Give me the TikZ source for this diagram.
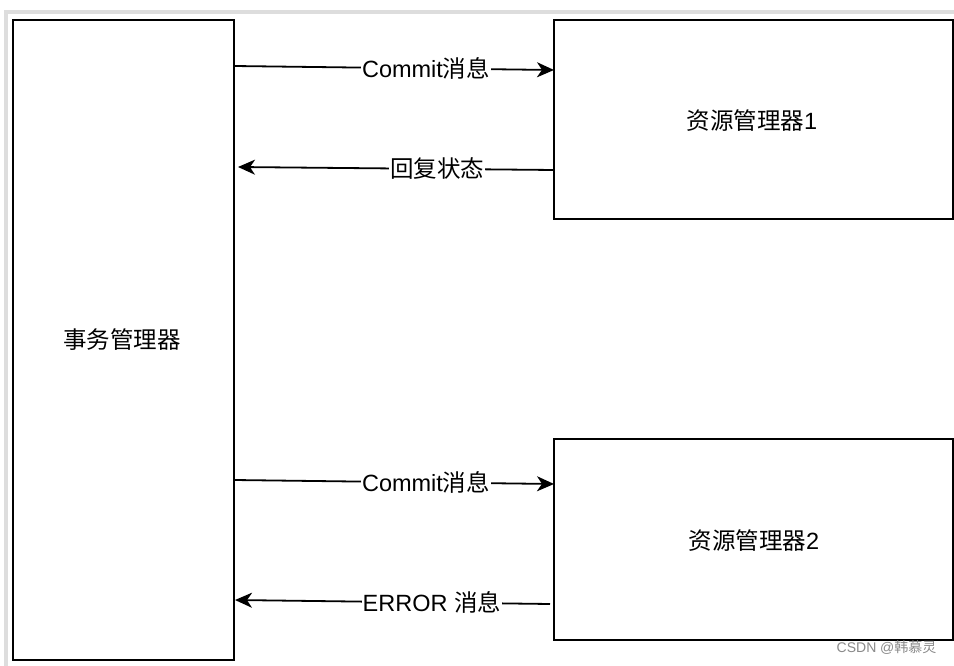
\documentclass[tikz,border=0pt]{standalone}
\usepackage{fontspec}
\setmainfont{Liberation Sans}
\newfontfamily\cjk{Noto Sans CJK SC}
\usetikzlibrary{arrows.meta,calc}
\definecolor{framegray}{HTML}{DDDDDD}
\definecolor{wmgray}{HTML}{8A8A8A}
\tikzset{
  box/.style={draw=black, line width=2.2pt, fill=white, inner sep=0pt, outer sep=0pt, anchor=north west},
  arr/.style={draw=black, line width=1.8pt, -{Stealth[length=17pt,width=15pt,inset=5pt]}},
  lbl/.style={fill=white, inner sep=1pt, font=\fontsize{23.5}{26}\selectfont},
  big/.style={font=\fontsize{23.5}{26}\selectfont},
}
\begin{document}
\begin{tikzpicture}[x=1pt,y=-1pt]
\useasboundingbox (0,0) rectangle (954,666);
\fill[white] (0,0) rectangle (954,666);
% light gray frame (top and left)
\draw[framegray, line width=4.5pt] (6,666) -- (6,12) -- (954,12);
% boxes
\node[box, minimum width=221pt, minimum height=640pt] (tm) at (13,20) {};
\node[box, minimum width=399pt, minimum height=199pt] (rm1) at (554,20) {};
\node[box, minimum width=399pt, minimum height=201pt] (rm2) at (554,439) {};
% labels inside boxes
\node[big] (tmt) at (122,340) {{\cjk 事务管理器}};
\node[big] (rm1t) at (752,121) {{\cjk 资源管理器}1};
\node[big] (rm2t) at (754,541) {{\cjk 资源管理器}2};
% connector end points
\coordinate (a1s) at ([yshift=-46pt]tm.north east);
\coordinate (a1e) at ([yshift=-50pt]rm1.north west);
\coordinate (a2s) at ([yshift=-150pt]rm1.north west);
\coordinate (a2e) at ([xshift=4pt,yshift=-147pt]tm.north east);
\coordinate (a3s) at ([yshift=-460pt]tm.north east);
\coordinate (a3e) at ([yshift=-45pt]rm2.north west);
\coordinate (a4s) at ([xshift=-4pt,yshift=-165pt]rm2.north west);
\coordinate (a4e) at ([xshift=1pt,yshift=-580pt]tm.north east);
% connectors
\draw[arr] (a1s) -- node[lbl, pos=0.6] (l1) {Commit{\cjk 消息}} (a1e);
\draw[arr] (a2s) -- node[lbl, pos=0.37] (l2) {{\cjk 回复状态}} (a2e);
\draw[arr] (a3s) -- node[lbl, pos=0.6] (l3) {Commit{\cjk 消息}} (a3e);
\draw[arr] (a4s) -- node[lbl, pos=0.375] (l4) {ERROR {\cjk 消息}} (a4e);
% source mark
\node[text=wmgray, font=\fontsize{14}{16}\selectfont, anchor=east] (csdn) at (940,648) {CSDN @{\cjk 韩慕灵}};
\end{tikzpicture}
\end{document}
